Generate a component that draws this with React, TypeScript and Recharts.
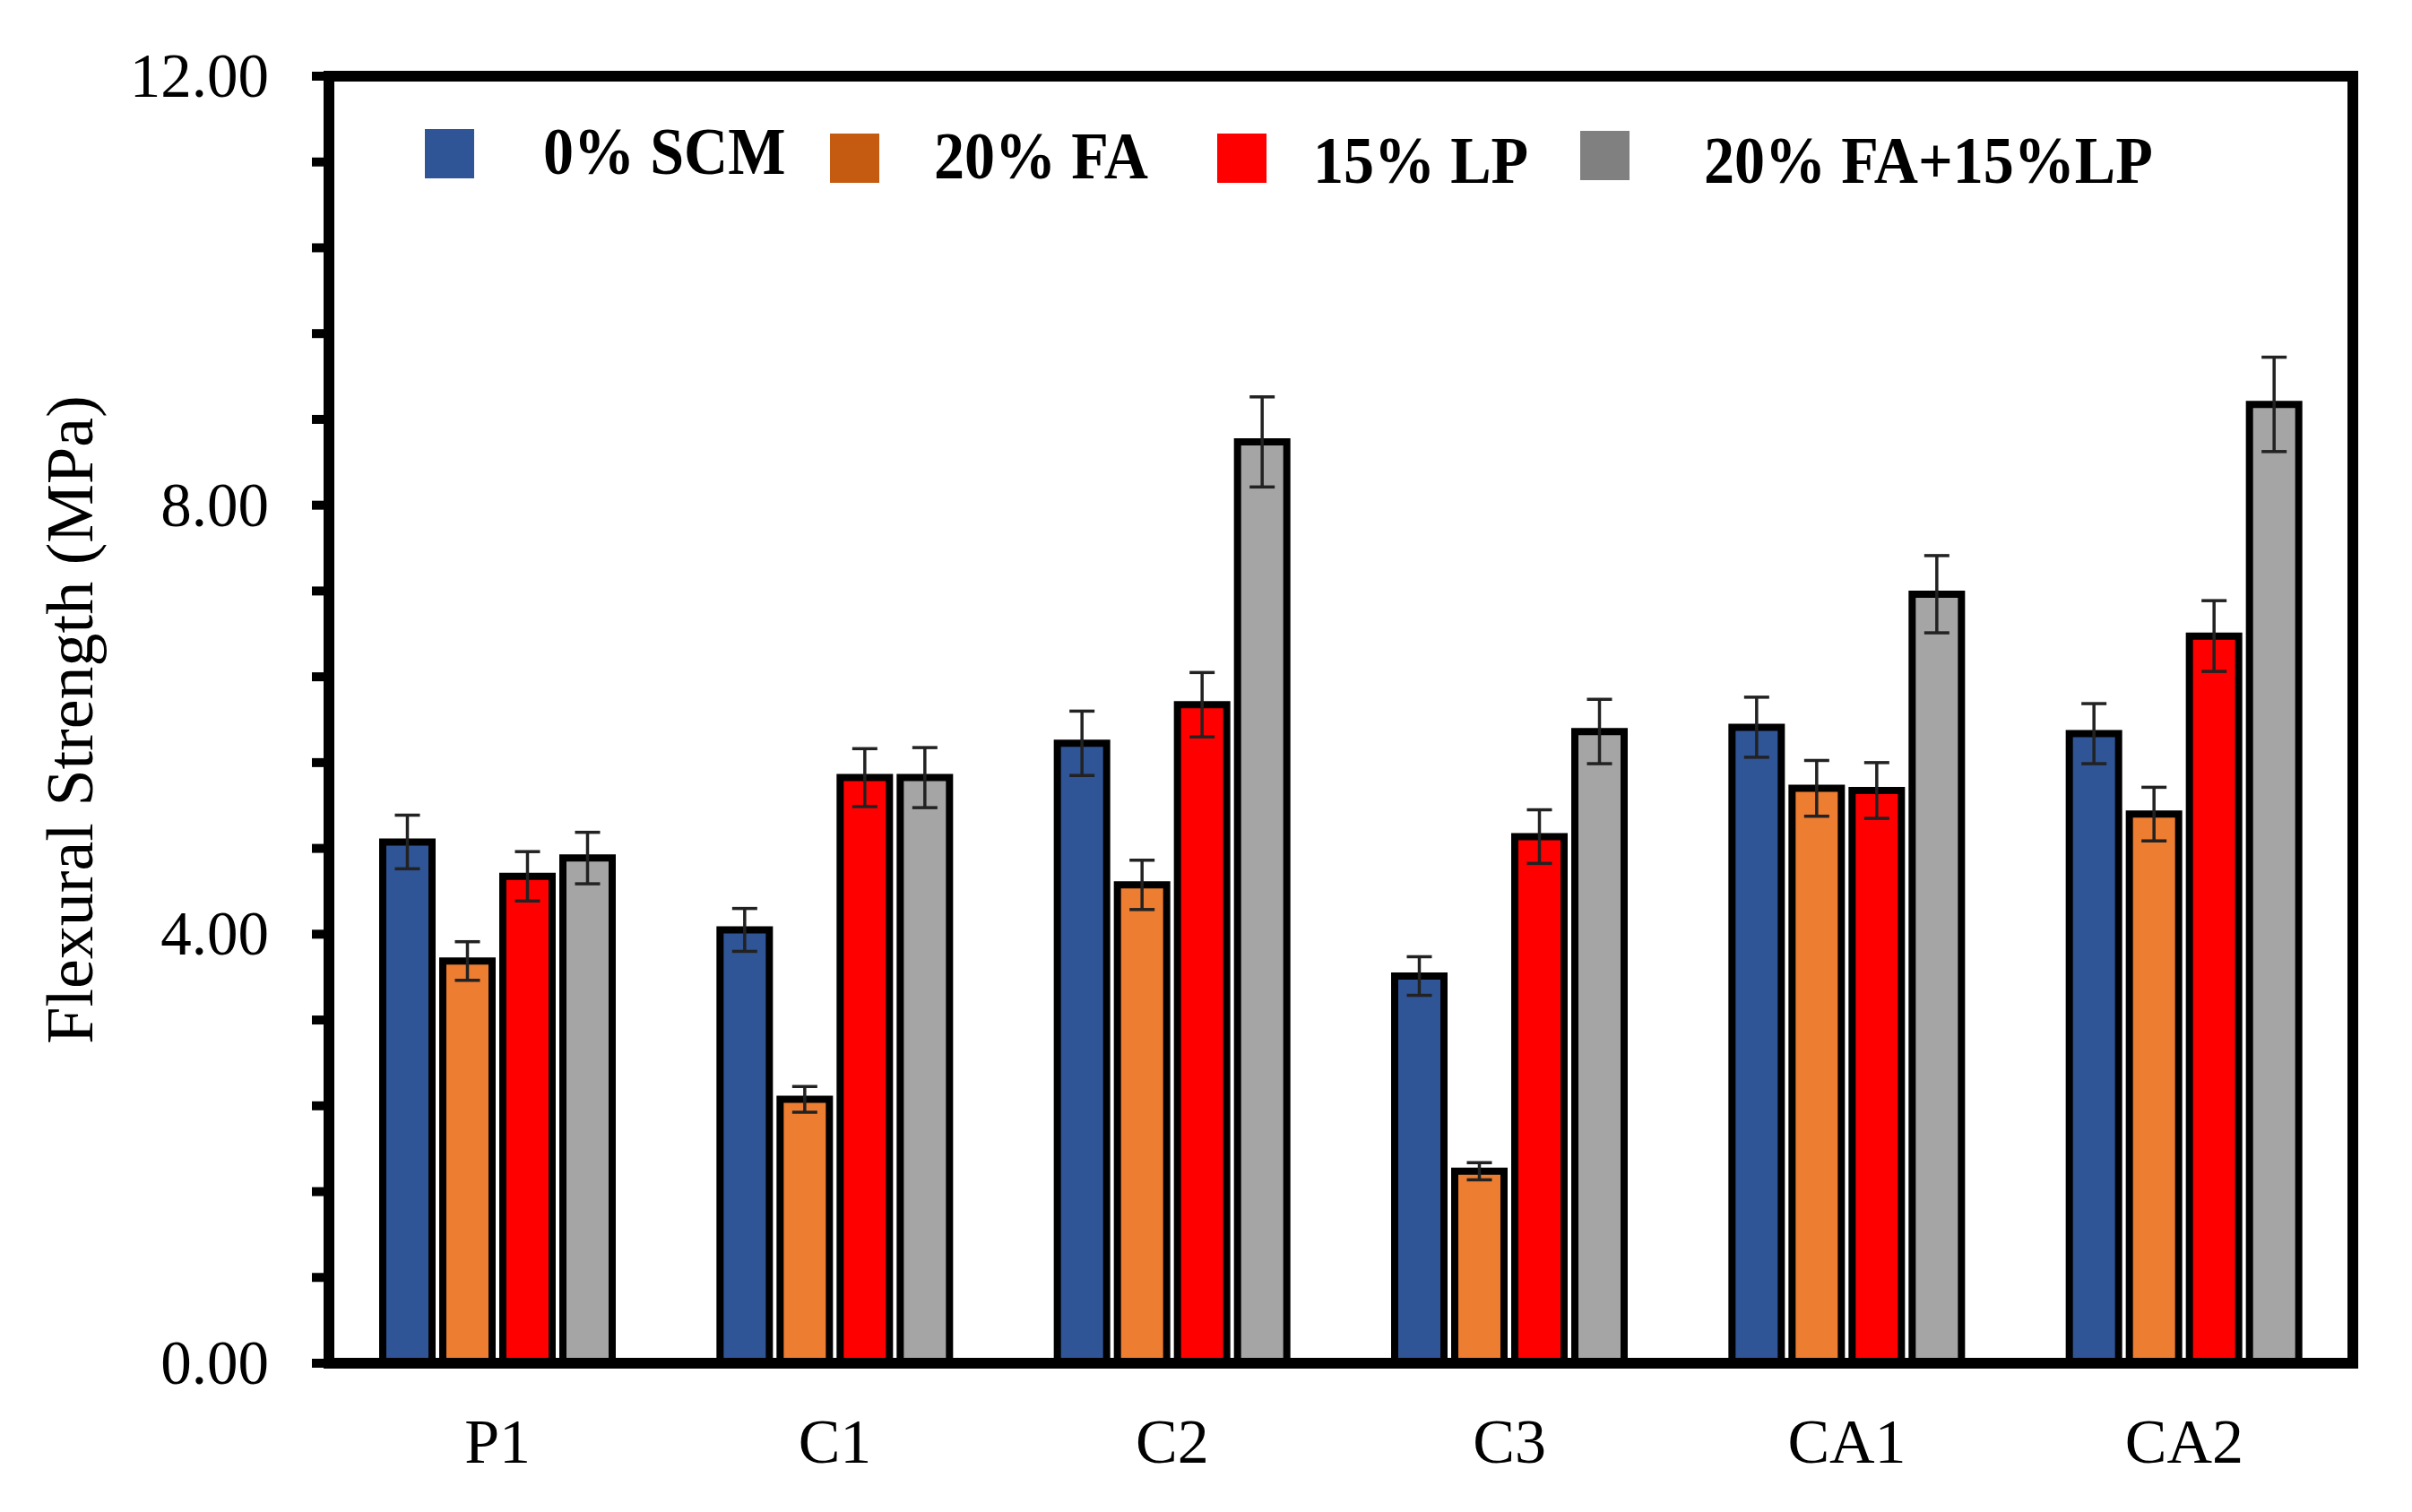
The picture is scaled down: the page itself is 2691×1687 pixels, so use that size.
import React from 'react';
import { BarChart, Bar, XAxis, YAxis, ErrorBar, Legend, ReferenceLine } from 'recharts';

const categories = ['P1', 'C1', 'C2', 'C3', 'CA1', 'CA2'];
const scm0 = [4.86, 4.04, 5.78, 3.61, 5.93, 5.87];
const scm0Err = [0.25, 0.2, 0.3, 0.18, 0.28, 0.28];
const fa20 = [3.75, 2.46, 4.46, 1.79, 5.36, 5.12];
const fa20Err = [0.18, 0.12, 0.23, 0.08, 0.26, 0.25];
const lp15 = [4.54, 5.46, 6.14, 4.91, 5.34, 6.78];
const lp15Err = [0.23, 0.27, 0.3, 0.25, 0.26, 0.33];
const faLp = [4.71, 5.46, 8.59, 5.89, 7.17, 8.94];
const faLpErr = [0.24, 0.28, 0.42, 0.3, 0.36, 0.44];

const seriesNames = ['0% SCM', '20% FA', '15% LP', '20% FA+15%LP'];
const yTicks = [0, 0.8, 1.6, 2.4, 3.2, 4, 4.8, 5.6, 6.4, 7.2, 8, 8.8, 9.6, 10.4, 11.2, 12];
const yLabelTicks = [0, 4, 8, 12];
const yMax = 12;
const yTitle = 'Flexural Strength (MPa)';

const data = categories.map((name, i) => ({
  name,
  scm0: scm0[i],
  scm0Err: scm0Err[i],
  fa20: fa20[i],
  fa20Err: fa20Err[i],
  lp15: lp15[i],
  lp15Err: lp15Err[i],
  faLp: faLp[i],
  faLpErr: faLpErr[i],
}));

const W = 2675;
const H = 1671;
const SERIF = '"Liberation Serif", "Times New Roman", serif';

const barColors = ['#2F5597', '#ED7D31', '#FF0000', '#A5A5A5'];
const legendColors = ['#2F5597', '#C55A11', '#FF0000', '#808080'];

const legendLayout = [
  { sx: 466, sy: 136, tx: 598, base: 186 },
  { sx: 918, sy: 141, tx: 1034, base: 191 },
  { sx: 1350, sy: 141, tx: 1457, base: 196 },
  { sx: 1755, sy: 138, tx: 1893, base: 196 },
];

const renderLegend = () => (
  <div style={{ position: 'relative', width: W, height: 1 }}>
    {seriesNames.map((n, i) => {
      const l = legendLayout[i];
      return (
        <React.Fragment key={n}>
          <div
            style={{
              position: 'absolute',
              left: l.sx,
              top: l.sy,
              width: 55,
              height: 55,
              background: legendColors[i],
            }}
          />
          <div
            style={{
              position: 'absolute',
              left: l.tx,
              top: l.base - 62,
              fontFamily: SERIF,
              fontWeight: 'bold',
              fontSize: 74,
              lineHeight: 1,
              whiteSpace: 'nowrap',
              color: '#000',
              transform: 'scaleX(0.92)',
              transformOrigin: 'left top',
            }}
          >
            {n}
          </div>
        </React.Fragment>
      );
    })}
  </div>
);

const YTick = (props: any) => {
  const { x, y, payload } = props;
  if (!yLabelTicks.some((v) => Math.abs(v - payload.value) < 1e-6)) return <g />;
  return (
    <text x={x} y={y} dy={23} textAnchor="end" fontFamily={SERIF} fontSize={69} fill="#000">
      {Number(payload.value).toFixed(2)}
    </text>
  );
};

const XTick = (props: any) => {
  const { x, y, payload } = props;
  return (
    <text x={x} y={y} dy={111} textAnchor="middle" fontFamily={SERIF} fontSize={70} fill="#000">
      {payload.value}
    </text>
  );
};

const YTitle = (props: any) => {
  const vb = props.viewBox || { y: 77, height: 1436 };
  const cx = 95;
  const cy = vb.y + vb.height / 2;
  return (
    <text
      x={cx}
      y={cy}
      transform={`rotate(-90, ${cx}, ${cy})`}
      textAnchor="middle"
      fontFamily={SERIF}
      fontSize={74}
      fill="#000"
    >
      {yTitle}
    </text>
  );
};

const axisLineStyle = { stroke: '#000', strokeWidth: 12, strokeLinecap: 'square' as const };

export default function App() {
  const keys = ['scm0', 'fa20', 'lp15', 'faLp'];
  return (
    <div style={{ width: W, height: H, background: '#fff' }}>
      <BarChart
        width={W}
        height={H}
        data={data}
        margin={{ top: 77, right: 58, bottom: 38, left: 0 }}
        barSize={55}
        barGap={12}
      >
        <XAxis
          dataKey="name"
          axisLine={axisLineStyle}
          tickLine={false}
          tickSize={0}
          tickMargin={0}
          height={120}
          tick={<XTick />}
          interval={0}
        />
        <YAxis
          domain={[0, yMax]}
          ticks={yTicks}
          interval={0}
          width={359}
          allowDataOverflow
          axisLine={axisLineStyle}
          tickLine={{ stroke: '#000', strokeWidth: 10 }}
          tickSize={19}
          tickMargin={48}
          tick={<YTick />}
          label={<YTitle />}
        />
        <Legend
          layout="horizontal"
          verticalAlign="middle"
          align="center"
          wrapperStyle={{ position: 'absolute', top: 0, left: 0, width: W, height: 1 }}
          content={renderLegend}
        />
        {keys.map((k, i) => (
          <Bar
            key={k}
            dataKey={k}
            name={seriesNames[i]}
            fill={barColors[i]}
            stroke="#000"
            strokeWidth={8}
            isAnimationActive={false}
          >
            <ErrorBar
              dataKey={`${k}Err`}
              direction="y"
              width={14}
              stroke="#222"
              strokeWidth={3.5}
              isAnimationActive={false}
            />
          </Bar>
        ))}
        <ReferenceLine
          y={yMax}
          stroke="#000"
          strokeWidth={12}
          strokeLinecap="square"
          ifOverflow="visible"
        />
        <ReferenceLine
          x={categories[categories.length - 1]}
          position="end"
          stroke="#000"
          strokeWidth={12}
          strokeLinecap="square"
          ifOverflow="visible"
        />
      </BarChart>
    </div>
  );
}
